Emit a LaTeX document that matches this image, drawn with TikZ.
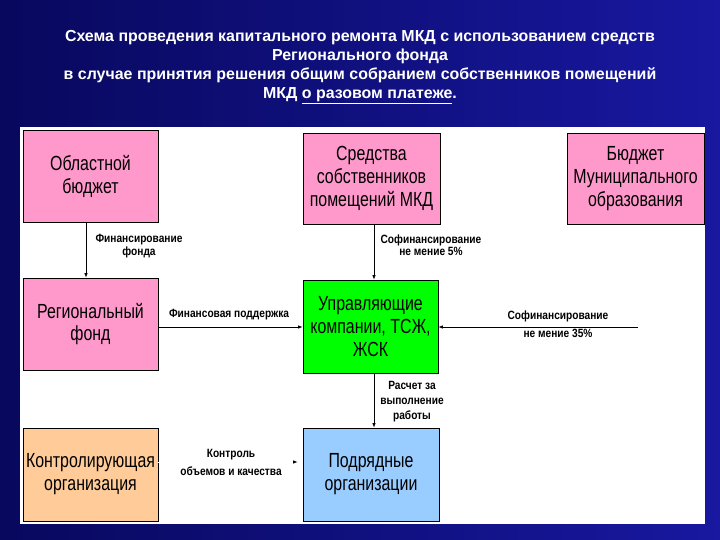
\documentclass[tikz,border=0pt]{standalone}
\usepackage{fontspec}
\setmainfont{Liberation Sans}
\newfontfamily\boxfont[FakeStretch=0.78]{Liberation Sans}
\newfontfamily\labfont[FakeStretch=0.85]{Liberation Sans}
\usetikzlibrary{arrows.meta}
\definecolor{bgleft}{HTML}{08085E}
\definecolor{bgright}{HTML}{1818A0}
\definecolor{pinkbox}{HTML}{FF99CC}
\definecolor{greenbox}{HTML}{00FF00}
\definecolor{peachbox}{HTML}{FFCC99}
\definecolor{bluebox}{HTML}{99CCFF}
\tikzset{
  box/.style={draw=black, line width=0.8bp, inner sep=0pt, align=center,
    font=\boxfont\fontsize{20.5}{23}\selectfont},
  lab/.style={inner sep=0pt, align=center, font=\labfont\bfseries\fontsize{12}{12.5}\selectfont},
  labwide/.style={inner sep=0pt, align=center, font=\labfont\bfseries\fontsize{12}{18}\selectfont},
  arr/.style={draw=black, line width=0.7bp, -{Latex[length=4.5bp,width=3.5bp]}},
}
\begin{document}
\begin{tikzpicture}[x=1bp,y=-1bp]
\useasboundingbox (0,0) rectangle (720,540);
\shade[left color=bgleft, right color=bgright] (0,0) rectangle (720,540);
\fill[white] (20,127) rectangle (705,524);

\node[text=white, align=center, font=\bfseries\fontsize{16}{19}\selectfont] (title) at (360,67)
  {Схема проведения капитального ремонта МКД с использованием средств\\
   Регионального фонда\\
   в случае принятия решения общим собранием собственников помещений\\
   МКД \underline{о разовом платеже}.};

\node[box, fill=pinkbox, minimum width=135bp, minimum height=92bp] (ob) at (90.5,176) {Областной\\бюджет};
\node[box, fill=pinkbox, minimum width=137bp, minimum height=91bp] (sr) at (371.5,178.5) {Средства\\собственников\\помещений МКД};
\node[box, fill=pinkbox, minimum width=137bp, minimum height=91bp] (bm) at (635.5,178.5) {Бюджет\\Муниципального\\образования};
\node[box, fill=pinkbox, minimum width=135bp, minimum height=92bp] (rf) at (90.5,324) {Региональный\\фонд};
\node[box, fill=greenbox, minimum width=135bp, minimum height=93bp] (uk) at (370.5,326.5) {Управляющие\\компании, ТСЖ,\\ЖСК};
\node[box, fill=peachbox, minimum width=135bp, minimum height=93bp] (ko) at (90.5,474.5) {Контролирующая\\организация};
\node[box, fill=bluebox, minimum width=136bp, minimum height=93bp] (po) at (371,474.5) {Подрядные\\организации};

\coordinate (vx) at (374,0);
\coordinate (hy) at (0,327);
\coordinate (ky) at (0,462);
\coordinate (mfree) at (638,327);

\draw[arr] ([xshift=-4.5bp]ob.south) -- ([xshift=-4.5bp]rf.north);
\draw[arr] (sr.south -| vx) -- (uk.north -| vx);
\draw[arr] (rf.east |- hy) -- (uk.west |- hy);
\draw[arr] (mfree) -- (uk.east |- hy);
\draw[arr] (uk.south -| vx) -- (po.north -| vx);
\draw[draw=white, line width=0.7bp, -{Latex[length=4.5bp,width=3.5bp,color=black]}, shorten >=5bp] (ko.east |- ky) -- (po.west |- ky);

\node[lab] (l1) at (139,246) {Финансирование\\фонда};
\node[lab] (l2) at (431,245) {Софинансирование\\не мение 5\%};
\node[lab] (l3) at (229,315) {Финансовая поддержка};
\node[labwide] (l4) at (558,324) {Софинансирование\\не мение 35\%};
\node[lab, font=\labfont\bfseries\fontsize{12}{15}\selectfont] (l5) at (412,402) {Расчет за\\выполнение\\работы};
\node[labwide] (l6) at (231,462) {Контроль\\объемов и качества};
\end{tikzpicture}
\end{document}
